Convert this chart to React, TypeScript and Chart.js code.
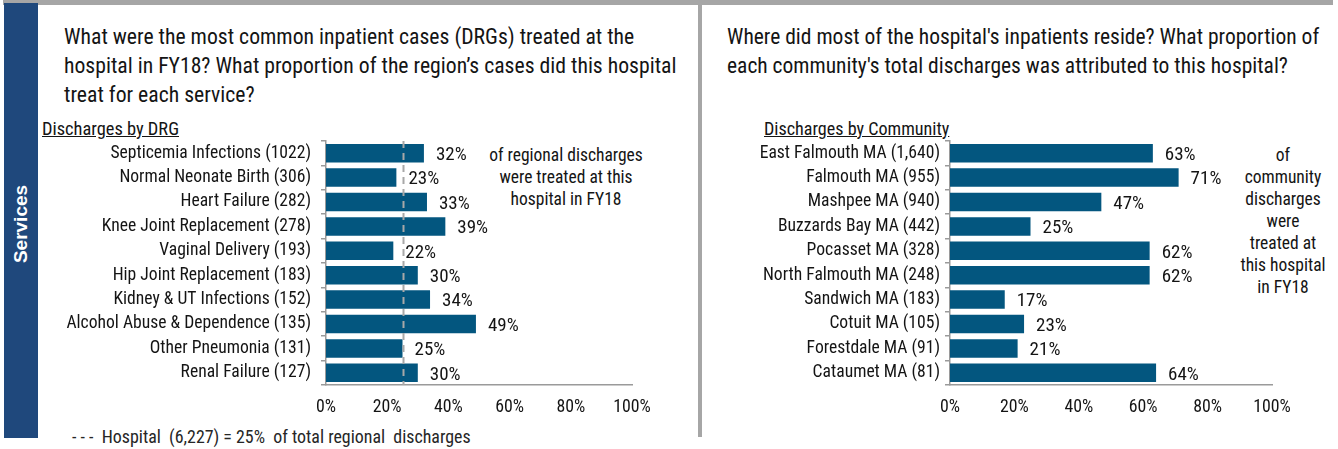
import React, { useEffect, useRef } from "react";
import { Chart, registerables } from "chart.js";

Chart.register(...registerables);

// ---------- data ----------
const drgLabels = [
  "Septicemia Infections (1022)",
  "Normal Neonate Birth (306)",
  "Heart Failure (282)",
  "Knee Joint Replacement (278)",
  "Vaginal Delivery (193)",
  "Hip Joint Replacement (183)",
  "Kidney & UT Infections (152)",
  "Alcohol Abuse & Dependence (135)",
  "Other Pneumonia (131)",
  "Renal Failure (127)",
];
const drgShare = [32, 23, 33, 39, 22, 30, 34, 49, 25, 30];

const communityLabels = [
  "East Falmouth MA (1,640)",
  "Falmouth MA (955)",
  "Mashpee MA (940)",
  "Buzzards Bay MA (442)",
  "Pocasset MA (328)",
  "North Falmouth MA (248)",
  "Sandwich MA (183)",
  "Cotuit MA (105)",
  "Forestdale MA (91)",
  "Cataumet MA (81)",
];
const communityShare = [63, 71, 47, 25, 62, 62, 17, 23, 21, 64];

const xTicks = [0, 20, 40, 60, 80, 100];
const hospitalShare = 25;

// ---------- styles ----------
const FONT = "'Roboto Condensed', 'Liberation Sans', Arial, sans-serif";
const TEXT = "#141414";
const BAR = "#03567f";
const AXIS = "#9a9a9a";

type BarProps = {
  labels: string[];
  values: number[];
  left: number;
  top: number;
  width: number;
  height: number;
  yAxisWidth: number;
  padRight: number;
  padTop: number;
  labelPad: number;
  refLine?: number;
};

function BarChart(p: BarProps) {
  const ref = useRef<HTMLCanvasElement>(null);
  useEffect(() => {
    const canvas = ref.current!;
    const valueLabels = {
      id: "valueLabels",
      afterDatasetsDraw(chart: any) {
        const ctx = chart.ctx;
        const meta = chart.getDatasetMeta(0);
        ctx.save();
        ctx.font = `19px ${FONT}`;
        ctx.fillStyle = TEXT;
        ctx.textAlign = "left";
        ctx.textBaseline = "middle";
        meta.data.forEach((bar: any, i: number) => {
          ctx.fillText(`${p.values[i]}%`, bar.x + 12, bar.y + 2);
        });
        ctx.restore();
      },
    };
    const refLinePlugin = {
      id: "refLine",
      afterDatasetsDraw(chart: any) {
        if (p.refLine === undefined) return;
        const x = chart.scales.x.getPixelForValue(p.refLine);
        const { top, bottom } = chart.chartArea;
        const ctx = chart.ctx;
        ctx.save();
        ctx.strokeStyle = "#a8a8a8";
        ctx.lineWidth = 2;
        ctx.setLineDash([7, 5]);
        ctx.beginPath();
        ctx.moveTo(Math.round(x) + 0.5, top);
        ctx.lineTo(Math.round(x) + 0.5, bottom);
        ctx.stroke();
        ctx.restore();
      },
    };
    const chart = new Chart(canvas, {
      type: "bar",
      data: {
        labels: p.labels,
        datasets: [
          {
            data: p.values,
            backgroundColor: BAR,
            borderWidth: 0,
            barPercentage: 0.76,
            categoryPercentage: 1,
          },
        ],
      },
      options: {
        indexAxis: "y",
        animation: false,
        responsive: false,
        maintainAspectRatio: false,
        layout: { padding: { left: 0, right: p.padRight, top: p.padTop, bottom: 0 } },
        plugins: { legend: { display: false }, tooltip: { enabled: false } },
        scales: {
          x: {
            min: 0,
            max: 100,
            afterFit: (s: any) => {
              s.height = 40;
            },
            afterBuildTicks: (s: any) => {
              s.ticks = xTicks.map((v) => ({ value: v }));
            },
            grid: { display: false, drawTicks: false },
            border: { display: true, color: AXIS, width: 1.5 },
            ticks: {
              padding: 12,
              color: TEXT,
              font: { family: FONT, size: 17.8 },
              callback: (v: any) => `${v}%`,
            },
          },
          y: {
            afterFit: (s: any) => {
              s.width = p.yAxisWidth;
            },
            grid: {
              display: true,
              drawOnChartArea: false,
              drawTicks: true,
              tickLength: 5,
              offset: true,
              color: AXIS,
              lineWidth: 1.5,
            },
            border: { display: true, color: AXIS, width: 1.5 },
            ticks: {
              padding: p.labelPad,
              color: TEXT,
              autoSkip: false,
              font: { family: FONT, size: 17.6 },
            },
          },
        },
      },
      plugins: [refLinePlugin, valueLabels],
    });
    return () => chart.destroy();
  }, []);
  return (
    <canvas
      ref={ref}
      width={p.width}
      height={p.height}
      style={{ position: "absolute", left: p.left, top: p.top, width: p.width, height: p.height }}
    />
  );
}

const abs = (o: React.CSSProperties): React.CSSProperties => ({ position: "absolute", ...o });

export default function App() {
  return (
    <div
      style={{
        position: "absolute",
        left: 0,
        top: 0,
        width: 1338,
        height: 449,
        overflow: "hidden",
        background: "#fff",
        fontFamily: FONT,
        color: TEXT,
      }}
    >
      {/* frame */}
      <div style={abs({ left: 3, top: 0, width: 1330, height: 5, background: "#a6a6a6" })} />
      <div style={abs({ left: 698, top: 0, width: 4, height: 437, background: "#a6a6a6" })} />
      <div style={abs({ left: 4, top: 3, width: 34, height: 435, background: "#1f487c" })} />
      <div
        style={abs({
          left: 21,
          top: 224,
          transform: "translate(-50%, -50%) rotate(-90deg)",
          color: "#fff",
          fontFamily: "'Liberation Sans', Arial, sans-serif",
          fontWeight: "bold",
          fontSize: 19,
          whiteSpace: "nowrap",
        })}
      >
        Services
      </div>

      {/* left panel text */}
      <div style={abs({ left: 64, top: 22, width: 640, fontSize: 21.7, lineHeight: "29px" })}>
        What were the most common inpatient cases (DRGs) treated at the
        <br />
        hospital in FY18? What proportion of the region’s cases did this hospital
        <br />
        treat for each service?
      </div>
      <div style={abs({ left: 42, top: 118, fontSize: 18.4, textDecoration: "underline", lineHeight: "22px" })}>
        Discharges by DRG
      </div>
      <div
        style={abs({
          left: 566,
          top: 144,
          transform: "translateX(-50%)",
          fontSize: 17.5,
          lineHeight: "22px",
          textAlign: "center",
          whiteSpace: "nowrap",
        })}
      >
        of regional discharges
        <br />
        were treated at this
        <br />
        hospital in FY18
      </div>
      <div style={abs({ left: 72, top: 426, fontSize: 17.9, lineHeight: "22px", whiteSpace: "pre", color: "#262626" })}>
        {"- - -  Hospital  (6,227) = 25%  of total regional  discharges"}
      </div>

      <BarChart
        labels={drgLabels}
        values={drgShare}
        left={40}
        top={115}
        width={650}
        height={310}
        yAxisWidth={286}
        padRight={58}
        padTop={26}
        labelPad={10}
        refLine={hospitalShare}
      />

      {/* right panel text */}
      <div style={abs({ left: 727, top: 22, width: 620, fontSize: 21.5, lineHeight: "29px" })}>
        Where did most of the hospital's inpatients reside? What proportion of
        <br />
        each community's total discharges was attributed to this hospital?
      </div>
      <div style={abs({ left: 764, top: 118, fontSize: 18.1, textDecoration: "underline", lineHeight: "22px" })}>
        Discharges by Community
      </div>
      <div
        style={abs({
          left: 1283,
          top: 144,
          transform: "translateX(-50%)",
          fontSize: 17.5,
          lineHeight: "22px",
          textAlign: "center",
          whiteSpace: "nowrap",
        })}
      >
        of
        <br />
        community
        <br />
        discharges
        <br />
        were
        <br />
        treated at
        <br />
        this hospital
        <br />
        in FY18
      </div>

      <BarChart
        labels={communityLabels}
        values={communityShare}
        left={720}
        top={115}
        width={618}
        height={310}
        yAxisWidth={230}
        padRight={66}
        padTop={26}
        labelPad={5}
      />
    </div>
  );
}
